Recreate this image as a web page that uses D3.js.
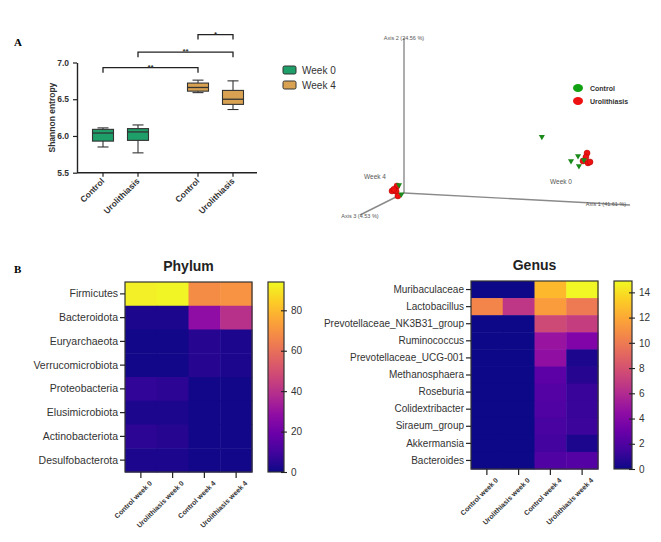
<!DOCTYPE html>
<html>
<head>
  <meta charset="utf-8">
  <style>
    body { margin: 0; background: #ffffff; }
    svg { font-family: 'Liberation Sans', Arial, sans-serif; }
    .panel-letter { font-family: 'Liberation Serif', 'DejaVu Serif', serif; font-weight: bold; font-size: 11px; }
    .axis path, .axis line { stroke: #222; }
    .axis text { fill: #333; }
  </style>
</head>
<body>
  <div id="chart"></div>
  <script src="https://d3js.org/d3.v7.min.js"></script>
  <script>
    // ---------- panel A: Shannon entropy boxplot ----------
    var boxWeeks = ['Week 0', 'Week 0', 'Week 4', 'Week 4'];
    var boxGroups = ['Control', 'Urolithiasis', 'Control', 'Urolithiasis'];
    var boxMin = [5.85, 5.77, 6.59, 6.36];
    var boxQ1 = [5.93, 5.94, 6.61, 6.43];
    var boxMedian = [6.04, 6.055, 6.66, 6.50];
    var boxQ3 = [6.09, 6.10, 6.72, 6.62];
    var boxMax = [6.11, 6.15, 6.76, 6.75];
    var shannonTicks = [5.5, 6.0, 6.5, 7.0];

    var bracketFrom = [0, 1, 2];
    var bracketTo = [2, 3, 3];
    var bracketLevel = [6.93, 7.14, 7.38];
    var bracketText = ['**', '**', '*'];

    // ---------- panel A: PCoA ----------
    var pcoaAxis1 = [0.61, 0.739, 0.77, 0.774, 0.796, 0.81, 0.805, 0.792, 0.814, 0.823,
                     -0.022, 0.0, -0.031, -0.053, -0.035, -0.027, -0.045];
    var pcoaAxis2 = [0.41, 0.264, 0.298, 0.234, 0.275, 0.32, 0.294, 0.268, 0.257, 0.264,
                     0.05, 0.0, 0.043, 0.009, 0.009, -0.021, 0.02];
    var pcoaAxis3 = [0, 0, 0, 0, 0, 0, 0, 0, 0, 0,
                     0, 0.06, 0, 0, 0, 0, 0];
    var pcoaGroup = ['Control', 'Control', 'Control', 'Control', 'Control',
                     'Urolithiasis', 'Urolithiasis', 'Urolithiasis', 'Urolithiasis', 'Urolithiasis',
                     'Control', 'Control', 'Urolithiasis', 'Urolithiasis', 'Urolithiasis', 'Urolithiasis', 'Urolithiasis'];
    var pcoaAxisNames = ['Axis 1 (41.61 %)', 'Axis 2 (24.56 %)', 'Axis 3 (4.53 %)'];

    // ---------- panel B: heatmaps ----------
    var heatCols = ['Control week 0', 'Urolithiasis week 0', 'Control week 4', 'Urolithiasis week 4'];

    var phylumRows = ['Firmicutes', 'Bacteroidota', 'Euryarchaeota', 'Verrucomicrobiota',
                      'Proteobacteria', 'Elusimicrobiota', 'Actinobacteriota', 'Desulfobacterota'];
    var phylumValues = [
      [92, 93, 68, 70],
      [2, 2, 28, 40],
      [1, 1, 4, 2],
      [1, 1, 4, 2],
      [6, 5, 1, 1],
      [2, 2, 1, 1],
      [5, 4, 1, 1],
      [2, 2, 1, 1]
    ];
    var phylumTicks = [0, 20, 40, 60, 80];

    var genusRows = ['Muribaculaceae', 'Lactobacillus', 'Prevotellaceae_NK3B31_group', 'Ruminococcus',
                     'Prevotellaceae_UCG-001', 'Methanosphaera', 'Roseburia', 'Colidextribacter',
                     'Siraeum_group', 'Akkermansia', 'Bacteroides'];
    var genusValues = [
      [0, 0, 12.6, 14.8],
      [10.5, 6.6, 11.5, 10.0],
      [0, 0, 7.6, 7.0],
      [0, 0, 4.8, 3.8],
      [0, 0, 4.5, 0.3],
      [0, 0, 2.5, 0.6],
      [0, 0, 2.2, 1.2],
      [0, 0, 2.0, 1.2],
      [0, 0, 1.8, 1.3],
      [0, 0, 1.6, 0.4],
      [0, 0, 2.0, 2.2]
    ];
    var genusTicks = [0, 2, 4, 6, 8, 10, 12, 14];

    var svg = d3.select('#chart').append('svg')
      .attr('width', 661)
      .attr('height', 542);

    svg.append('text').attr('class', 'panel-letter').attr('x', 14).attr('y', 46).text('A');
    svg.append('text').attr('class', 'panel-letter').attr('x', 14).attr('y', 273).text('B');

    // ===== boxplot =====
    var weekColor = { 'Week 0': '#1e9e68', 'Week 4': '#d9a252' };
    var y = d3.scaleLinear().domain([5.5, 7.0]).range([172.7, 62.5]);
    var xWeek = d3.scalePoint().domain(['Week 0', 'Week 4']).range([120.5, 215.5]);
    var xGroup = d3.scalePoint().domain(['Control', 'Urolithiasis']).range([-17.5, 17.5]);
    function boxX(i) { return xWeek(boxWeeks[i]) + xGroup(boxGroups[i]); }
    var boxW = 21;

    var gBox = svg.append('g');
    gBox.append('g')
      .attr('class', 'axis')
      .attr('transform', 'translate(77,0)')
      .call(d3.axisLeft(y).tickValues(shannonTicks).tickFormat(d3.format('.1f')).tickSize(4).tickSizeOuter(0))
      .call(function (g) {
        g.select('.domain').attr('stroke-width', 1.4);
        g.selectAll('line').attr('stroke-width', 1.2);
        g.selectAll('text').attr('font-size', 8.5).attr('font-weight', 'bold').attr('dx', -1);
      });

    gBox.append('line')
      .attr('x1', 77).attr('x2', 257)
      .attr('y1', y(5.5)).attr('y2', y(5.5))
      .attr('stroke', '#222').attr('stroke-width', 1.4);

    boxWeeks.forEach(function (w, i) {
      var cx = boxX(i);
      gBox.append('line')
        .attr('x1', cx).attr('x2', cx)
        .attr('y1', y(5.5)).attr('y2', y(5.5) + 4)
        .attr('stroke', '#222').attr('stroke-width', 1.2);
      gBox.append('text')
        .attr('transform', 'translate(' + (cx + 2) + ',' + (y(5.5) + 9) + ') rotate(-45)')
        .attr('text-anchor', 'end')
        .attr('font-size', 8.5)
        .attr('font-weight', 'bold')
        .attr('fill', '#333')
        .text(boxGroups[i]);

      // whiskers
      gBox.append('line')
        .attr('x1', cx).attr('x2', cx)
        .attr('y1', y(boxMax[i])).attr('y2', y(boxMin[i]))
        .attr('stroke', '#333').attr('stroke-width', 1.1);
      [boxMin[i], boxMax[i]].forEach(function (v) {
        gBox.append('line')
          .attr('x1', cx - 5.5).attr('x2', cx + 5.5)
          .attr('y1', y(v)).attr('y2', y(v))
          .attr('stroke', '#333').attr('stroke-width', 1.1);
      });
      gBox.append('rect')
        .attr('x', cx - boxW / 2).attr('width', boxW)
        .attr('y', y(boxQ3[i])).attr('height', y(boxQ1[i]) - y(boxQ3[i]))
        .attr('fill', weekColor[w])
        .attr('stroke', '#333').attr('stroke-width', 1.1);
      gBox.append('line')
        .attr('x1', cx - boxW / 2).attr('x2', cx + boxW / 2)
        .attr('y1', y(boxMedian[i])).attr('y2', y(boxMedian[i]))
        .attr('stroke', '#333').attr('stroke-width', 1.3);
    });

    bracketFrom.forEach(function (f, k) {
      var x1 = boxX(f), x2 = boxX(bracketTo[k]), by = y(bracketLevel[k]);
      gBox.append('path')
        .attr('d', 'M' + x1 + ',' + (by + 5) + 'V' + by + 'H' + x2 + 'V' + (by + 5))
        .attr('fill', 'none').attr('stroke', '#222').attr('stroke-width', 1.3);
      gBox.append('text')
        .attr('x', (x1 + x2) / 2).attr('y', by + 2)
        .attr('text-anchor', 'middle')
        .attr('font-size', 8).attr('font-weight', 'bold').attr('fill', '#333')
        .text(bracketText[k]);
    });

    // y label
    gBox.append('text')
      .attr('transform', 'translate(55,' + y(6.25) + ') rotate(-90)')
      .attr('text-anchor', 'middle')
      .attr('font-size', 8.5).attr('font-weight', 'bold').attr('fill', '#333')
      .text('Shannon entropy');

    // legend
    ['Week 0', 'Week 4'].forEach(function (w, i) {
      var ly = 70 + i * 15;
      gBox.append('rect')
        .attr('x', 283).attr('y', ly - 4).attr('width', 13).attr('height', 8)
        .attr('rx', 1.5)
        .attr('fill', weekColor[w]).attr('stroke', '#333').attr('stroke-width', 1);
      gBox.append('text')
        .attr('x', 302).attr('y', ly + 3.5)
        .attr('font-size', 10).attr('fill', '#333')
        .text(w);
    });

    // ===== PCoA 3D scatter =====
    var gP = svg.append('g');
    var origin = [404, 193];
    var axisEnds = [[630, 205], [404, 38], [360, 215]];
    var axisScales = [
      d3.scaleLinear().domain([0, 1]).range([0, 1]),
      d3.scaleLinear().domain([0, 1]).range([0, 1]),
      d3.scaleLinear().domain([0, 1]).range([0, 1])
    ];
    function project(a1, a2, a3) {
      var t = [axisScales[0](a1), axisScales[1](a2), axisScales[2](a3)];
      var px = origin[0], py = origin[1];
      t.forEach(function (v, k) {
        px += v * (axisEnds[k][0] - origin[0]);
        py += v * (axisEnds[k][1] - origin[1]);
      });
      return [px, py];
    }
    axisEnds.forEach(function (e) {
      gP.append('line')
        .attr('x1', origin[0]).attr('y1', origin[1])
        .attr('x2', e[0]).attr('y2', e[1])
        .attr('stroke', '#8a8a8a').attr('stroke-width', 1.4);
    });
    gP.append('text').attr('x', 606).attr('y', 206).attr('text-anchor', 'middle')
      .attr('font-size', 5.5).attr('fill', '#555').text(pcoaAxisNames[0]);
    gP.append('text').attr('x', 404).attr('y', 40).attr('text-anchor', 'middle')
      .attr('font-size', 5.5).attr('fill', '#555').text(pcoaAxisNames[1]);
    gP.append('text').attr('x', 360).attr('y', 218).attr('text-anchor', 'middle')
      .attr('font-size', 5.5).attr('fill', '#555').text(pcoaAxisNames[2]);

    gP.append('text').attr('x', 550).attr('y', 184).attr('font-size', 6.5).attr('fill', '#555').text('Week 0');
    gP.append('text').attr('x', 364).attr('y', 179).attr('font-size', 6.5).attr('fill', '#555').text('Week 4');

    var groupColor = { 'Control': '#1a8a1a', 'Urolithiasis': '#ee1111' };
    var tri = d3.symbol().type(d3.symbolTriangle).size(16);
    // circles first, triangles on top
    pcoaAxis1.forEach(function (a1, i) {
      if (pcoaGroup[i] !== 'Urolithiasis') return;
      var p = project(a1, pcoaAxis2[i], pcoaAxis3[i]);
      gP.append('circle')
        .attr('cx', p[0]).attr('cy', p[1]).attr('r', 3)
        .attr('fill', groupColor.Urolithiasis)
        .attr('stroke', '#b00000').attr('stroke-width', 0.5);
    });
    pcoaAxis1.forEach(function (a1, i) {
      if (pcoaGroup[i] !== 'Control') return;
      var p = project(a1, pcoaAxis2[i], pcoaAxis3[i]);
      gP.append('path')
        .attr('d', tri())
        .attr('transform', 'translate(' + p[0] + ',' + p[1] + ') rotate(180)')
        .attr('fill', groupColor.Control);
    });

    ['Control', 'Urolithiasis'].forEach(function (g, i) {
      var ly = 88 + i * 13;
      gP.append('ellipse')
        .attr('cx', 578).attr('cy', ly).attr('rx', 5).attr('ry', 4)
        .attr('fill', g === 'Control' ? '#11a011' : groupColor[g]);
      gP.append('text')
        .attr('x', 590).attr('y', ly + 2.5)
        .attr('font-size', 7).attr('font-weight', 'bold').attr('fill', '#333')
        .text(g);
    });

    // ===== heatmaps =====
    function drawHeatmap(opt) {
      var g = svg.append('g');
      var x = d3.scaleBand().domain(heatCols).range([opt.x0, opt.x1]);
      var yb = d3.scaleBand().domain(opt.rows).range([opt.y0, opt.y1]);
      var color = d3.scaleSequential(d3.interpolatePlasma).domain([0, opt.max]);

      opt.rows.forEach(function (r, ri) {
        heatCols.forEach(function (c, ci) {
          g.append('rect')
            .attr('x', x(c)).attr('y', yb(r))
            .attr('width', x.bandwidth() + 0.5).attr('height', yb.bandwidth() + 0.5)
            .attr('fill', color(opt.values[ri][ci]));
        });
      });
      g.append('rect')
        .attr('x', opt.x0).attr('y', opt.y0)
        .attr('width', opt.x1 - opt.x0).attr('height', opt.y1 - opt.y0)
        .attr('fill', 'none').attr('stroke', '#333').attr('stroke-width', 1.2);

      g.append('g')
        .attr('class', 'axis')
        .attr('transform', 'translate(' + opt.x0 + ',0)')
        .call(d3.axisLeft(yb).tickSize(5).tickPadding(2).tickSizeOuter(0))
        .call(function (a) {
          a.select('.domain').remove();
          a.selectAll('line').attr('stroke', '#333').attr('stroke-width', 1.2);
          a.selectAll('text').attr('font-size', opt.rowFont).attr('fill', '#444');
        });

      g.append('g')
        .attr('class', 'axis')
        .attr('transform', 'translate(0,' + opt.y1 + ')')
        .call(d3.axisBottom(x).tickSize(6).tickSizeOuter(0))
        .call(function (a) {
          a.select('.domain').remove();
          a.selectAll('line').attr('stroke', '#333').attr('stroke-width', 1.2);
          a.selectAll('text')
            .attr('font-size', 7).attr('font-weight', 'bold').attr('fill', '#333')
            .attr('text-anchor', 'end')
            .attr('transform', 'translate(4,4) rotate(-45)')
            .attr('dy', '0.7em').attr('y', 6);
        });

      g.append('text')
        .attr('x', (opt.x0 + opt.x1) / 2).attr('y', opt.y0 - 11)
        .attr('text-anchor', 'middle')
        .attr('font-size', 14).attr('font-weight', 'bold').attr('fill', '#222')
        .text(opt.title);

      // colour bar
      var gradId = 'grad-' + opt.title;
      var grad = svg.append('defs').append('linearGradient')
        .attr('id', gradId).attr('x1', 0).attr('x2', 0).attr('y1', 1).attr('y2', 0);
      d3.range(0, 1.0001, 0.1).forEach(function (t) {
        grad.append('stop').attr('offset', t).attr('stop-color', d3.interpolatePlasma(t));
      });
      var cb = d3.scaleLinear().domain([0, opt.max]).range([opt.y1, opt.y0]);
      g.append('rect')
        .attr('x', opt.cb0).attr('y', opt.y0)
        .attr('width', opt.cb1 - opt.cb0).attr('height', opt.y1 - opt.y0)
        .attr('fill', 'url(#' + gradId + ')')
        .attr('stroke', '#333').attr('stroke-width', 1.2);
      g.append('g')
        .attr('class', 'axis')
        .attr('transform', 'translate(' + opt.cb1 + ',0)')
        .call(d3.axisRight(cb).tickValues(opt.ticks).tickSize(3).tickPadding(4).tickSizeOuter(0))
        .call(function (a) {
          a.select('.domain').remove();
          a.selectAll('line').attr('stroke', '#333').attr('x1', -3).attr('stroke-width', 1.1);
          a.selectAll('text').attr('font-size', 10).attr('fill', '#444');
        });
    }

    drawHeatmap({
      title: 'Phylum', rows: phylumRows, values: phylumValues, max: 94, ticks: phylumTicks,
      x0: 125, x1: 252, y0: 282, y1: 472, cb0: 268, cb1: 284, rowFont: 10.5
    });
    drawHeatmap({
      title: 'Genus', rows: genusRows, values: genusValues, max: 14.9, ticks: genusTicks,
      x0: 471, x1: 598, y0: 281, y1: 469, cb0: 614, cb1: 632, rowFont: 10
    });
  </script>
</body>
</html>
